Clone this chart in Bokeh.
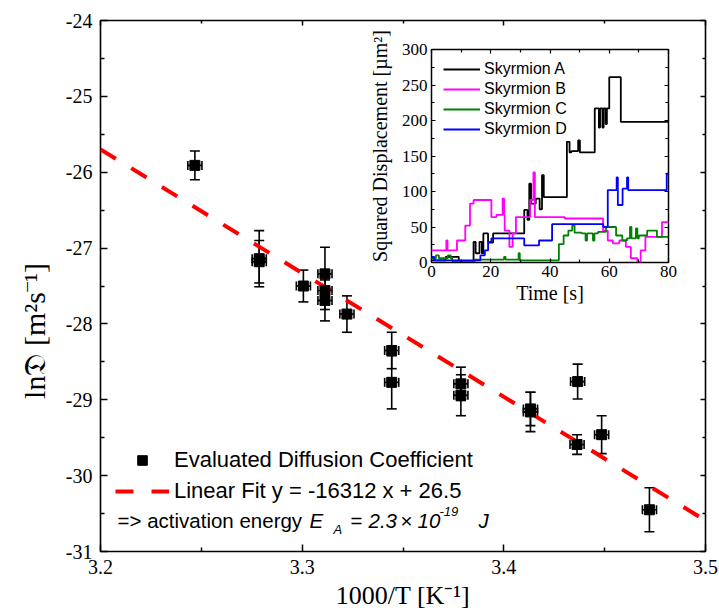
import numpy as np
from bokeh.plotting import figure
from bokeh.models import (ColumnDataSource, Whisker, TeeHead, Legend, LegendItem, Label,
                          LinearAxis, FixedTicker, Range1d, CustomJSTickFormatter)
from bokeh.layouts import column
from bokeh.embed import file_html
from bokeh.resources import INLINE

# ---------------- main data ----------------
inv_T = [3.2468, 3.2787, 3.2787, 3.3006, 3.3113, 3.3113, 3.3113, 3.3222, 3.3444, 3.3444,
         3.3787, 3.3787, 3.4132, 3.4132, 3.4366, 3.4363, 3.4485, 3.4722]
ln_D = [-25.91, -27.14, -27.18, -27.50, -27.34, -27.56, -27.69, -27.87, -28.35, -28.77,
        -28.79, -28.94, -29.12, -29.16, -28.76, -29.59, -29.46, -30.45]
ln_D_err = [0.19, 0.37, 0.28, 0.21, 0.35, 0.25, 0.27, 0.24, 0.24, 0.35,
            0.22, 0.27, 0.22, 0.26, 0.23, 0.13, 0.25, 0.29]
inv_T_err = [0.0035, 0.0035, 0.0035, 0.0035, 0.0035, 0.0035, 0.0035, 0.0035, 0.0035, 0.0035,
             0.0035, 0.0035, 0.0035, 0.0035, 0.0035, 0.0035, 0.0035, 0.0035]

fit_slope = -16.312     # -16312 K  (x in 1000/T)
fit_intercept = 26.5
fit_x = [3.2, 3.5]

x_ticks = [3.2, 3.3, 3.4, 3.5]
x_minor = [3.25, 3.35, 3.45]
y_ticks = [-31, -30, -29, -28, -27, -26, -25, -24]
y_minor = [-30.5, -29.5, -28.5, -27.5, -26.5, -25.5, -24.5]

# ---------------- inset data (step traces) ----------------
t_A = [0, 4.8, 9.2, 14.2, 14.9, 16.2, 17.0, 17.5, 19.1, 20.8, 31.3, 32.4, 33.0, 33.6, 35.2, 36.5,
       37.3, 37.9, 45.7, 46.6, 47.2, 49.5, 50.1, 55.1, 56.5, 56.9, 57.7, 58.1, 58.8, 59.2, 60.0, 63.9, 80]
v_A = [3, 8, 2, 29, 13, 29, 13, 41, 28, 41, 74, 60, 111, 83, 90, 75,
       123, 92, 170, 155, 157, 172, 155, 217, 190, 217, 190, 217, 195, 217, 261, 198, 198]

t_B = [0, 5.0, 5.4, 8.6, 11.4, 13.0, 14.2, 20.2, 21.9, 24.0, 24.5, 24.7, 26.3, 27.4, 28.5, 33.3,
       34.4, 34.9, 45.0, 57.9, 59.5, 61.2, 63.4, 65.6, 67.3, 69.5, 70.6, 72.2, 77.8, 80]
v_B = [17, 31, 17, 31, 52, 83, 88, 64, 67, 90, 67, 45, 22, 41, 64, 88,
       127, 64, 62, 45, 31, 27, 31, 22, 6, 1, 17, 36, 57, 57]

t_C = [0, 1.5, 2.5, 5.5, 6.5, 7.0, 14.7, 24.5, 25.0, 29.4, 29.8, 41.8, 43.0, 44.6, 46.2, 47.5,
       48.3, 50.7, 52.0, 52.5, 54.5, 55.0, 56.2, 58.9, 62.3, 64.4, 66.0, 67.0, 67.5, 69.0, 69.5,
       70.0, 72.8, 76.1, 80]
v_C = [6, 10, 6, 10, 6, 2, 4, 8, 4, 13, 3, 3, 26, 38, 45, 52,
       42, 41, 31, 41, 31, 41, 43, 50, 38, 31, 34, 50, 34, 48, 34,
       38, 45, 36, 36]

t_D = [0, 0.9, 16.5, 18.0, 19.1, 20.2, 31.3, 36.3, 40.7, 58.0, 59.5, 62.5, 62.9, 64.5, 66.0, 66.4,
       79.4, 80]
v_D = [8, 3, 10, 17, 29, 34, 24, 31, 54, 50, 102, 120, 81, 104, 120, 102,
       125, 125]

inset_series = [("Skyrmion A", t_A, v_A, "#000000"),
                ("Skyrmion B", t_B, v_B, "#ff00ff"),
                ("Skyrmion C", t_C, v_C, "#008000"),
                ("Skyrmion D", t_D, v_D, "#0000ff")]
tx_ticks = [0, 20, 40, 60, 80]
tx_minor = [10, 30, 50, 70]
ty_ticks = [0, 50, 100, 150, 200, 250, 300]
ty_minor = [25, 75, 125, 175, 225, 275]

SERIF = "Liberation Serif"
SANS = "Liberation Sans"
NB = "\u00a0"

plain = CustomJSTickFormatter(code="return tick.toString()")
blank = CustomJSTickFormatter(code="return ''")


def style_axes(fig, xt, xm, yt, ym, tick_font, label_font, maj_in, min_in, mir_maj, mir_min, lw):
    bx = fig.below[0]
    ly = fig.left[0]
    top = LinearAxis(formatter=blank)
    right = LinearAxis(formatter=blank)
    fig.add_layout(top, "above")
    fig.add_layout(right, "right")
    bx.formatter = plain
    ly.formatter = plain
    for ax in [bx, top]:
        ax.ticker = FixedTicker(ticks=xt, minor_ticks=xm)
    for ax in [ly, right]:
        ax.ticker = FixedTicker(ticks=yt, minor_ticks=ym)
    for ax in [bx, ly, top, right]:
        ax.axis_line_color = None
        ax.major_tick_out = 0
        ax.minor_tick_out = 0
        ax.major_tick_line_width = lw
        ax.minor_tick_line_width = lw
        ax.major_tick_line_color = "black"
        ax.minor_tick_line_color = "black"
        ax.major_label_text_font = SERIF
        ax.major_label_text_font_size = tick_font
        ax.major_label_text_color = "black"
        ax.axis_label_text_font = SERIF
        ax.axis_label_text_font_size = label_font
        ax.axis_label_text_font_style = "normal"
        ax.axis_label_text_color = "black"
    for ax in [bx, ly]:
        ax.major_tick_in = maj_in
        ax.minor_tick_in = min_in
    for ax in [top, right]:
        ax.major_tick_in = mir_maj
        ax.minor_tick_in = mir_min
        ax.major_label_standoff = 0
    return bx, ly


# ---------------- main figure ----------------
p = figure(frame_width=605, frame_height=531, x_range=Range1d(3.2, 3.5), y_range=Range1d(-31, -24),
           output_backend="svg", toolbar_location=None,
           min_border_left=98, min_border_right=16, min_border_top=20, min_border_bottom=58,
           x_axis_label="1000/T [K\u207b\u00b9]",
           y_axis_label="ln\U0001D507 [m\u00b2s\u207b\u00b9]" + NB * 12)
p.xgrid.visible = False
p.ygrid.visible = False
p.outline_line_color = "black"
p.outline_line_width = 1.6
bx, ly = style_axes(p, x_ticks, x_minor, y_ticks, y_minor, "20px", "26px", 7, 4, 5, 3, 1.5)
ly.axis_label_text_font_size = "30px"
bx.major_label_standoff = 8
ly.major_label_standoff = 8
bx.axis_label_standoff = 4
ly.axis_label_standoff = 12

src = ColumnDataSource(dict(
    x=inv_T, y=ln_D,
    y_lo=np.array(ln_D) - np.array(ln_D_err), y_hi=np.array(ln_D) + np.array(ln_D_err),
    x_lo=np.array(inv_T) - np.array(inv_T_err), x_hi=np.array(inv_T) + np.array(inv_T_err)))

fit_line = p.line(x=fit_x, y=[fit_slope * v + fit_intercept for v in fit_x],
                  line_color="#ff0000", line_width=4, line_dash="18 18")

vw = Whisker(source=src, base="x", lower="y_lo", upper="y_hi", dimension="height",
             line_color="black", line_width=1.6,
             upper_head=TeeHead(size=10, line_color="black", line_width=1.6),
             lower_head=TeeHead(size=10, line_color="black", line_width=1.6))
hw = Whisker(source=src, base="y", lower="x_lo", upper="x_hi", dimension="width",
             line_color="black", line_width=1.6,
             upper_head=TeeHead(size=9, line_color="black", line_width=1.6),
             lower_head=TeeHead(size=9, line_color="black", line_width=1.6))
p.add_layout(vw)
p.add_layout(hw)
sc = p.scatter("x", "y", source=src, marker="square", size=10, color="black")

legend = Legend(items=[LegendItem(label="Evaluated Diffusion Coefficient", renderers=[sc]),
                       LegendItem(label="Linear Fit y = -16312 x + 26.5", renderers=[fit_line])],
                location=(15, 47), border_line_color=None, background_fill_alpha=0,
                padding=0, margin=0, spacing=5, glyph_width=54, glyph_height=24, label_height=24,
                label_standoff=5, label_text_font=SANS, label_text_font_size="22px",
                label_text_color="black")
p.add_layout(legend)

ea_parts = [("=> activation energy", 17, 31, "normal", "20.5px"),
            ("E", 209, 31, "italic", "20.5px"),
            ("A", 233, 22, "italic", "13px"),
            ("=", 250, 31, "normal", "20.5px"),
            ("2.3", 268, 31, "italic", "20.5px"),
            ("\u00d7", 300, 31, "normal", "20.5px"),
            ("10", 317, 31, "italic", "20.5px"),
            ("-19", 339, 40, "italic", "13px"),
            ("J", 378, 31, "italic", "20.5px")]
for txt, sx, sy, style, size in ea_parts:
    p.add_layout(Label(x=sx, y=sy, x_units="screen", y_units="screen", text=txt,
                       text_font=SANS, text_font_size=size, text_font_style=style,
                       text_align="left", text_baseline="middle", text_color="black"))

# ---------------- inset figure ----------------
IL, IR, IT, IB = 100, 12, 25, 56
q = figure(width=IL + 241 + IR, height=IT + 213 + IB, x_range=Range1d(0, 80), y_range=Range1d(0, 300),
           output_backend="svg", toolbar_location=None,
           min_border_left=IL, min_border_right=IR, min_border_top=IT, min_border_bottom=IB,
           x_axis_label="Time [s]",
           y_axis_label=NB * 4 + "Squared Displacement [\u00b5m\u00b2]",
           background_fill_color="white", border_fill_alpha=0)
q.xgrid.visible = False
q.ygrid.visible = False
q.outline_line_color = "black"
q.outline_line_width = 1.5
qbx, qly = style_axes(q, tx_ticks, tx_minor, ty_ticks, ty_minor, "17px", "20px", 4, 3, 4, 3, 1.2)
qbx.major_label_standoff = 3
qly.major_label_standoff = 4
qbx.axis_label_standoff = 2
qly.axis_label_standoff = 8

items = []
for name, tt, vv, col in inset_series:
    r = q.step(x=tt, y=vv, mode="after", line_color=col, line_width=1.8)
    items.append(LegendItem(label=name, renderers=[r]))
q.add_layout(Legend(items=items, location=(12, 123), border_line_color=None,
                    background_fill_alpha=0, padding=0, margin=0, spacing=0,
                    glyph_width=37, glyph_height=20, label_height=20, label_standoff=4,
                    label_text_font=SANS, label_text_font_size="16px", label_text_color="black"))

q.margin = (-588, 0, 0, 331)

layout = column(p, q)
open("out.html", "w").write(file_html(layout, INLINE))
